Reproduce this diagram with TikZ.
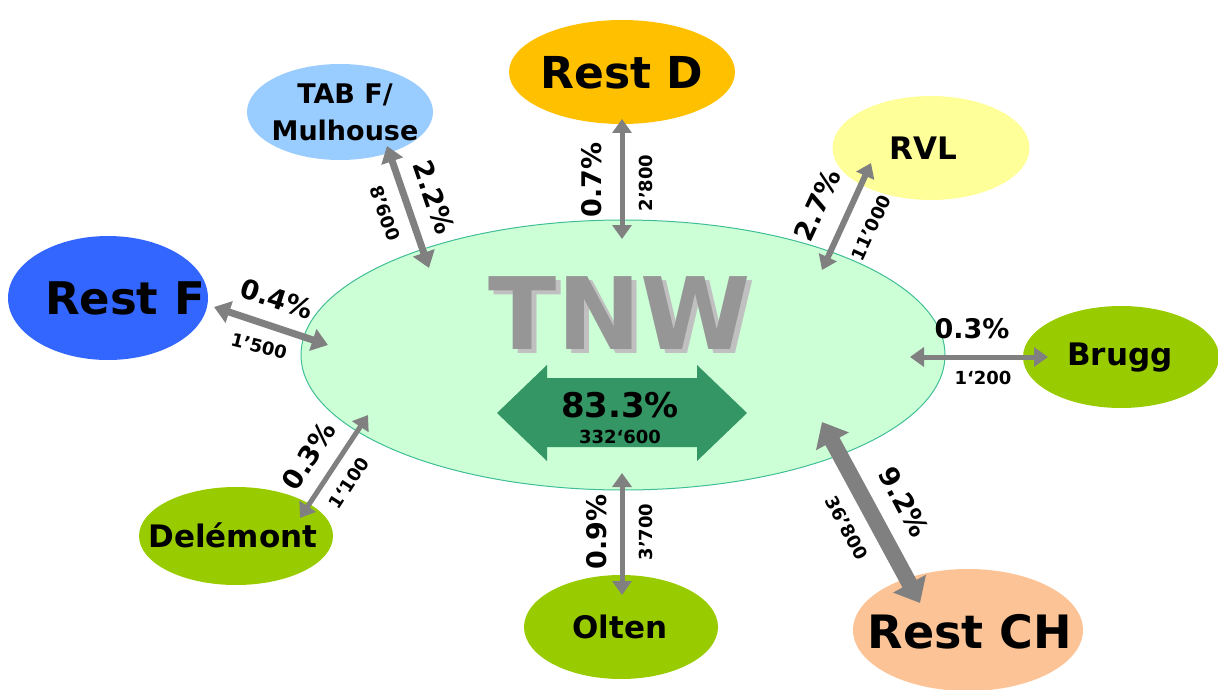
\documentclass[tikz,border=0pt]{standalone}
\usepackage{fontspec}
\setmainfont{DejaVu Sans}
\usetikzlibrary{shapes.geometric,arrows.meta}
\definecolor{tnwfill}{RGB}{204,255,214}
\definecolor{tnwline}{RGB}{64,190,150}
\definecolor{bigarrow}{RGB}{52,150,100}
\definecolor{restd}{RGB}{255,192,0}
\definecolor{tabf}{RGB}{153,204,255}
\definecolor{rvl}{RGB}{255,255,153}
\definecolor{restf}{RGB}{51,102,255}
\definecolor{limegreen}{RGB}{153,204,0}
\definecolor{restch}{RGB}{252,196,150}
\definecolor{arrgray}{RGB}{128,128,128}
\definecolor{tnwtext}{RGB}{150,150,150}
\definecolor{tnwshadow}{RGB}{192,192,192}
\tikzset{
  sat/.style={ellipse, inner sep=0pt, font=\bfseries},
  conn/.style={draw=arrgray, line width=5pt,
    {Triangle[length=14pt,width=19pt]}-{Triangle[length=14pt,width=19pt]}},
  connmid/.style={draw=arrgray, line width=7pt,
    {Triangle[length=16pt,width=22pt]}-{Triangle[length=16pt,width=22pt]}},
  connbig/.style={draw=arrgray, line width=16pt,
    {Triangle[length=22pt,width=36pt]}-{Triangle[length=22pt,width=36pt]}},
  pct/.style={font=\bfseries\fontsize{27}{29}\selectfont, inner sep=0pt},
  num/.style={font=\bfseries\fontsize{18}{20}\selectfont, inner sep=0pt},
}
\begin{document}
\begin{tikzpicture}[x=1pt,y=-1pt]
\useasboundingbox (0,0) rectangle (1218,690);
% central ellipse
\node[ellipse, draw=tnwline, line width=1pt, fill=tnwfill, minimum width=644pt, minimum height=270pt, inner sep=0pt] (tnw) at (623,355) {};
\node[font=\bfseries\fontsize{100}{110}\selectfont, text=tnwshadow, inner sep=0pt] (tnwsh) at (625,317) {TNW};
\node[font=\bfseries\fontsize{100}{110}\selectfont, text=tnwtext, inner sep=0pt] (tnwlabel) at (620,313) {TNW};
% internal double arrow
\fill[bigarrow] (497,413) -- (547,365) -- (547,378) -- (697,378) -- (697,365) -- (747,413)
  -- (697,461) -- (697,447) -- (547,447) -- (547,461) -- cycle;
\node[font=\bfseries\fontsize{34}{36}\selectfont, inner sep=0pt] (intpct) at (620,405) {83.3\%};
\node[font=\bfseries\fontsize{18}{20}\selectfont, inner sep=0pt] (intnum) at (620,437) {332`600};
% satellites
\node[sat, fill=restd, minimum width=226pt, minimum height=104pt] (restd) at (622,72) {};
\node[font=\bfseries\fontsize{44}{48}\selectfont, inner sep=0pt] (restdt) at (622,73) {Rest D};
\node[sat, fill=tabf, minimum width=186pt, minimum height=96pt] (tabf) at (340,112) {};
\node[font=\bfseries\fontsize{27}{37}\selectfont, align=center, inner sep=0pt] (tabft) at (345,112) {TAB F/\\Mulhouse};
\node[sat, fill=rvl, minimum width=197pt, minimum height=104pt] (rvl) at (931,148) {};
\node[font=\bfseries\fontsize{31}{33}\selectfont, inner sep=0pt] (rvlt) at (923,148) {RVL};
\node[sat, fill=restf, minimum width=200pt, minimum height=124pt] (restf) at (108,298) {};
\node[font=\bfseries\fontsize{45}{48}\selectfont, inner sep=0pt] (restft) at (125,298) {Rest F};
\node[sat, fill=limegreen, minimum width=196pt, minimum height=102pt] (brugg) at (1121,357) {};
\node[font=\bfseries\fontsize{31}{33}\selectfont, inner sep=0pt] (bruggt) at (1120,358) {Brugg};
\node[sat, fill=limegreen, minimum width=194pt, minimum height=98pt] (delemont) at (236,536) {};
\node[font=\bfseries\fontsize{31}{33}\selectfont, inner sep=0pt] (delemontt) at (233,535) {Delémont};
\node[sat, fill=limegreen, minimum width=194pt, minimum height=104pt] (olten) at (621,627) {};
\node[font=\bfseries\fontsize{31}{33}\selectfont, inner sep=0pt] (oltent) at (620,627) {Olten};
\node[sat, fill=restch, minimum width=230pt, minimum height=122pt] (restch) at (968,630) {};
\node[font=\bfseries\fontsize{46}{48}\selectfont, inner sep=0pt] (restcht) at (970,632) {Rest CH};
% arrow endpoints
\coordinate (tabA) at (387,146);  \coordinate (tabB) at (429,268);
\coordinate (rdA) at (622,119);   \coordinate (rdB) at (622,239);
\coordinate (rvlA) at (871,163);  \coordinate (rvlB) at (822,270);
\coordinate (rfA) at (214,307);   \coordinate (rfB) at (328,345);
\coordinate (brA) at (910,357);   \coordinate (brB) at (1048,357);
\coordinate (deA) at (368,415);   \coordinate (deB) at (300,518);
\coordinate (olA) at (622,473);   \coordinate (olB) at (622,595);
\coordinate (chA) at (822,422);   \coordinate (chB) at (920,603);
% connectors
\draw[connmid] (tabA) -- (tabB);
\draw[conn] (rdA) -- (rdB);
\draw[conn, line width=6pt] (rvlA) -- (rvlB);
\draw[connmid] (rfA) -- (rfB);
\draw[conn] (brA) -- (brB);
\draw[conn] (deA) -- (deB);
\draw[conn] (olA) -- (olB);
\draw[connbig] (chA) -- (chB);
% labels
\node[pct, rotate=-71] (l1) at (434,197) {2.2\%};
\node[num, rotate=-71] (n1) at (385,213) {8'600};
\node[pct, rotate=90] (l2) at (592,180) {0.7\%};
\node[num, rotate=90] (n2) at (646,183) {2'800};
\node[pct, rotate=65] (l3) at (817,205) {2.7\%};
\node[num, rotate=65] (n3) at (871,228) {11'000};
\node[pct, rotate=-18] (l4) at (277,299) {0.4\%};
\node[num, rotate=-14] (n4) at (259,346) {1'500};
\node[pct] (l5) at (972,329) {0.3\%};
\node[num] (n5) at (983,378) {1`200};
\node[pct, rotate=57] (l6) at (309,456) {0.3\%};
\node[num, rotate=57] (n6) at (349,483) {1`100};
\node[pct, rotate=90] (l7) at (597,532) {0.9\%};
\node[num, rotate=90] (n7) at (646,532) {3'700};
\node[pct, rotate=-62] (l8) at (904,502) {9.2\%};
\node[num, rotate=-62] (n8) at (847,528) {36'800};
\end{tikzpicture}
\end{document}
